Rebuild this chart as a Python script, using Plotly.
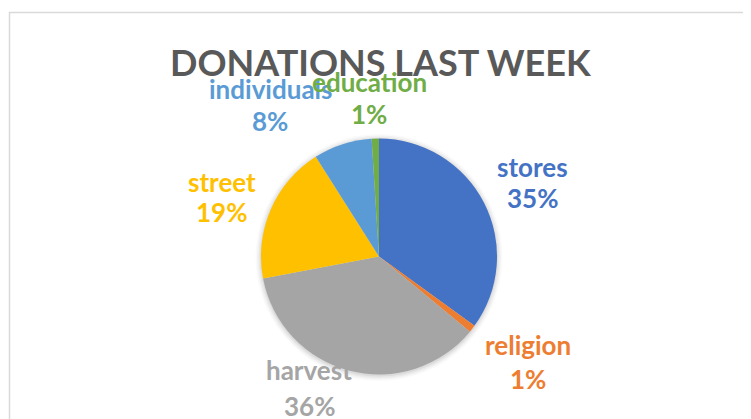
import plotly.graph_objects as go

# ---- data ----
categories = ["stores", "religion", "harvest", "street", "individuals", "education"]
values = [35, 1, 36, 19, 8, 1]
pct_labels = ["35%", "1%", "36%", "19%", "8%", "1%"]
colors = ["#4472C4", "#ED7D31", "#A5A5A5", "#FFC000", "#5B9BD5", "#70AD47"]
title_text = "DONATIONS LAST WEEK"

# ---- layout (pixels in the window; page body adds an 8px offset) ----
W, H = 751, 419
OFF = 8
cx, cy, r = 379, 256.5, 118
# label placement (x center, name baseline, pct baseline) in window pixels
label_pos = [
    (532.5, 176, 207),
    (527.5, 354, 388),
    (309, 379, 415),
    (222, 191, 221),
    (270, 98, 130),
    (369, 91, 123),
]
FONT = "Lato, sans-serif"
LFS = 26
TFS = 36


def px(x):
    return (x - OFF) / W


def py(y):
    return 1 - (y - OFF) / H


fig = go.Figure()
fig.add_trace(go.Pie(
    labels=categories,
    values=values,
    sort=False,
    direction="clockwise",
    rotation=0,
    marker=dict(colors=colors, line=dict(width=0)),
    textinfo="none",
    hoverinfo="label+percent",
    showlegend=False,
    domain=dict(x=[px(cx - r), px(cx + r)], y=[py(cy + r), py(cy - r)]),
))

shapes = []
# soft shadow around the pie
for i, a in enumerate([0.05, 0.04, 0.03, 0.02]):
    d = r + 1 + i * 1.5
    shapes.append(dict(type="circle", xref="paper", yref="paper",
                       x0=px(cx - d), x1=px(cx + d), y0=py(cy + d + 1), y1=py(cy - d + 1),
                       fillcolor=f"rgba(0,0,0,{a})", line=dict(width=0), layer="below"))
# chart area border
shapes.append(dict(type="rect", xref="paper", yref="paper",
                   x0=px(9.5), x1=px(747), y0=-0.1, y1=py(12.5),
                   line=dict(color="#D9D9D9", width=1.5), fillcolor="rgba(0,0,0,0)"))

annotations = [dict(text=f"<b>{title_text}</b>", x=px(380), y=py(75 - 0.35 * TFS),
                    xref="paper", yref="paper", xanchor="center", yanchor="middle",
                    showarrow=False, borderpad=0,
                    font=dict(family=FONT, size=TFS, color="#595959"))]
for name, pct, col, (lx, nb, pb) in zip(categories, pct_labels, colors, label_pos):
    for txt, base in ((name, nb), (pct, pb)):
        annotations.append(dict(text=f"<b>{txt}</b>", x=px(lx), y=py(base - 0.35 * LFS),
                                xref="paper", yref="paper", xanchor="center", yanchor="middle",
                                showarrow=False, borderpad=0,
                                font=dict(family=FONT, size=LFS, color=col)))

fig.update_layout(
    width=W, height=H,
    margin=dict(l=0, r=0, t=0, b=0),
    paper_bgcolor="white",
    plot_bgcolor="white",
    shapes=shapes,
    annotations=annotations,
)

fig.write_html("out.html")
